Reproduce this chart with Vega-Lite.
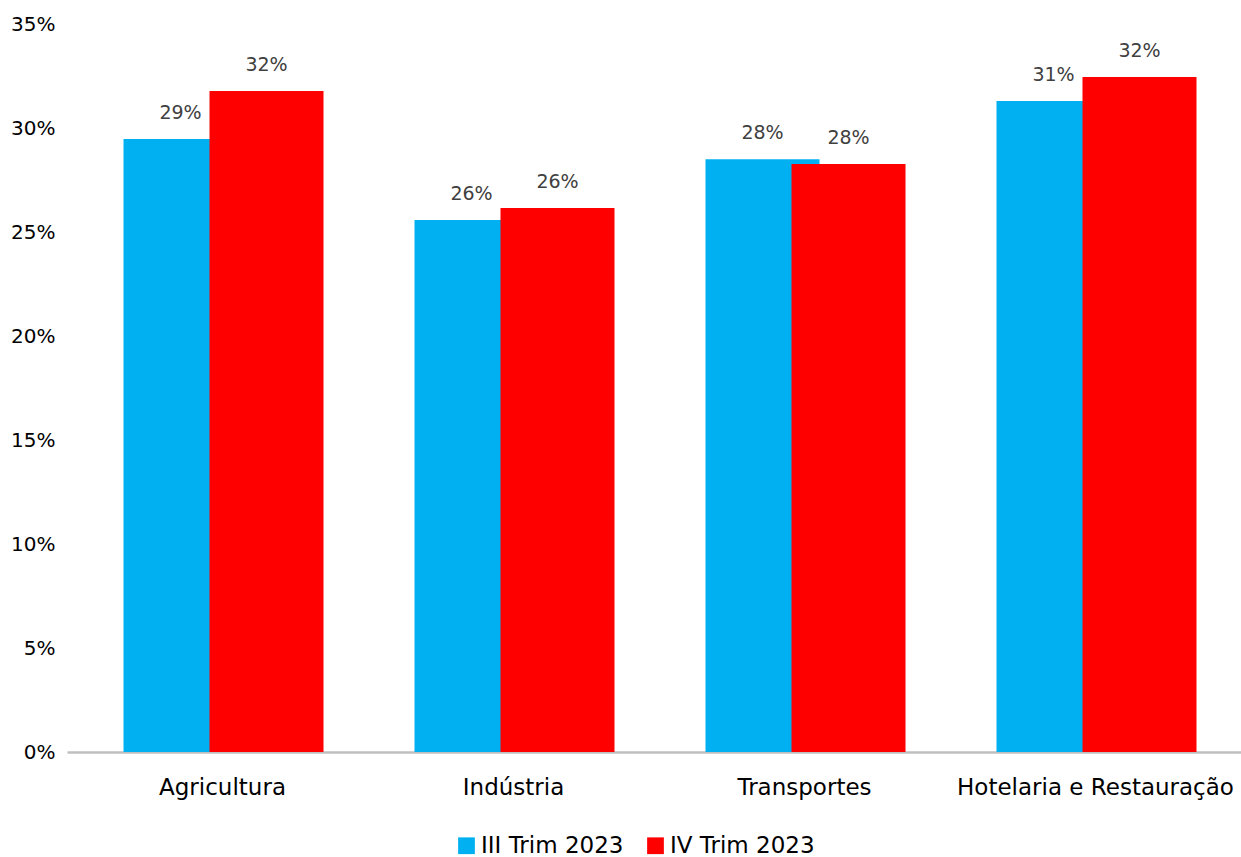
{
  "$schema": "https://vega.github.io/schema/vega-lite/v6.json",
  "autosize": "none",
  "width": 1174,
  "height": 728,
  "padding": {"left": 67, "top": 24, "right": 0, "bottom": 105},
  "background": "white",
  "config": {
    "font": "DejaVu Sans",
    "view": {"stroke": null}
  },
  "data": {
    "values": [
      {"setor": "Agricultura", "periodo": "III Trim 2023", "valor": 0.2947},
      {"setor": "Agricultura", "periodo": "IV Trim 2023", "valor": 0.3178},
      {"setor": "Indústria", "periodo": "III Trim 2023", "valor": 0.2558},
      {"setor": "Indústria", "periodo": "IV Trim 2023", "valor": 0.2615},
      {"setor": "Transportes", "periodo": "III Trim 2023", "valor": 0.285},
      {"setor": "Transportes", "periodo": "IV Trim 2023", "valor": 0.2827},
      {"setor": "Hotelaria e Restauração", "periodo": "III Trim 2023", "valor": 0.313},
      {"setor": "Hotelaria e Restauração", "periodo": "IV Trim 2023", "valor": 0.3245}
    ]
  },
  "encoding": {
    "x": {
      "field": "setor",
      "type": "nominal",
      "sort": null,
      "scale": {"paddingInner": 0, "paddingOuter": 0.0172, "align": 1},
      "axis": {
        "title": null,
        "labelAngle": 0,
        "labelFontSize": 23,
        "labelColor": "#000000",
        "labelPadding": 24,
        "labelLimit": 0,
        "ticks": false,
        "domainColor": "#bfbfbf",
        "domainWidth": 2.5
      }
    },
    "y": {
      "field": "valor",
      "type": "quantitative",
      "scale": {"domain": [0, 0.35], "nice": false},
      "axis": {
        "title": null,
        "format": ".0%",
        "values": [0, 0.05, 0.1, 0.15, 0.2, 0.25, 0.3, 0.35],
        "grid": false,
        "domain": false,
        "ticks": false,
        "labelFontSize": 20,
        "labelColor": "#000000",
        "labelPadding": 12
      }
    }
  },
  "layer": [
    {
      "transform": [{"filter": "datum.periodo === 'III Trim 2023'"}],
      "mark": {"type": "bar", "width": 114, "xOffset": -42},
      "encoding": {
        "color": {
          "field": "periodo",
          "type": "nominal",
          "scale": {"domain": ["III Trim 2023", "IV Trim 2023"], "range": ["#00B0F0", "#FF0000"]},
          "legend": {
            "title": null,
            "orient": "none",
            "direction": "horizontal",
            "legendX": 388,
            "legendY": 810,
            "symbolType": "square",
            "symbolSize": 280,
            "symbolStrokeWidth": 0,
            "labelFontSize": 23,
            "labelColor": "#000000",
            "columnPadding": 20,
            "labelOffset": 3,
            "labelLimit": 0
          }
        }
      }
    },
    {
      "transform": [{"filter": "datum.periodo === 'IV Trim 2023'"}],
      "mark": {"type": "bar", "width": 114, "xOffset": 44},
      "encoding": {
        "color": {"field": "periodo", "type": "nominal"}
      }
    },
    {
      "transform": [{"filter": "datum.periodo === 'III Trim 2023'"}],
      "mark": {"type": "text", "xOffset": -42, "dy": -26, "baseline": "middle", "fontSize": 19, "color": "#404040"},
      "encoding": {"text": {"field": "valor", "type": "quantitative", "format": ".0%"}}
    },
    {
      "transform": [{"filter": "datum.periodo === 'IV Trim 2023'"}],
      "mark": {"type": "text", "xOffset": 44, "dy": -26, "baseline": "middle", "fontSize": 19, "color": "#404040"},
      "encoding": {"text": {"field": "valor", "type": "quantitative", "format": ".0%"}}
    }
  ]
}
